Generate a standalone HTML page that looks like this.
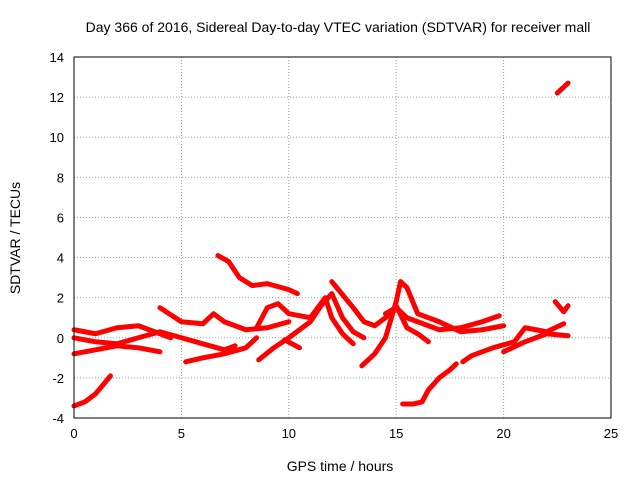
<!DOCTYPE html>
<html><head><meta charset="utf-8"><style>body{margin:0;background:#fff}svg{display:block;font-family:"Liberation Sans",sans-serif}</style></head>
<body>
<svg id="c" width="640" height="480"></svg>
<script>
const xTicks=[0,5,10,15,20,25];
const yTicks=[-4,-2,0,2,4,6,8,10,12,14];
const tr1=[[0,-3.4],[0.5,-3.2],[1,-2.8],[1.7,-1.9]];
const tr2=[[0,0.4],[1,0.2],[2,0.5],[3,0.6],[3.5,0.4],[4.5,0.0]];
const tr3=[[0,-0.8],[1,-0.6],[2,-0.4],[3,-0.5],[4,-0.7]];
const tr4=[[0,0.0],[1,-0.2],[2,-0.3],[3,0.0],[4,0.3],[5,0.0],[6,-0.3],[7,-0.6],[7.5,-0.4]];
const tr5=[[4,1.5],[5,0.8],[6,0.7],[6.5,1.2],[7,0.8],[8,0.4],[9,0.5],[10,0.8]];
const tr6=[[5.2,-1.2],[6,-1.0],[7,-0.8],[8,-0.5],[8.5,0]];
const tr7=[[6.7,4.1],[7.2,3.8],[7.7,3.0],[8.3,2.6],[9,2.7],[10,2.4],[10.4,2.2]];
const tr8=[[8.6,-1.1],[9.3,-0.5],[10,0],[11,0.8],[11.5,1.6],[12,2.2],[12.5,1.0],[13,0.3],[13.5,0]];
const tr9=[[8.5,0.5],[9,1.5],[9.5,1.7],[10,1.2],[11,1.0],[11.7,2.0],[12,1.0],[12.5,0.2],[13,-0.3]];
const tr10=[[9.8,-0.1],[10.5,-0.5]];
const tr11=[[12,2.8],[13,1.5],[13.5,0.8],[14,0.6],[14.5,1.0],[15,1.6],[15.5,0.5],[16,0.2],[16.5,-0.2]];
const tr12=[[13.4,-1.4],[14,-0.8],[14.5,0],[15,1.8],[15.2,2.8],[15.5,2.5],[16,1.2],[17,0.8],[18,0.3],[19,0.4],[20,0.6]];
const tr13=[[14.5,1.2],[15,1.5],[15.5,1.0],[16,0.8],[17,0.4],[18,0.5],[19,0.8],[19.8,1.1]];
const tr14=[[15.3,-3.3],[15.8,-3.3],[16.2,-3.2],[16.5,-2.6],[17,-2.0],[17.5,-1.6],[17.8,-1.3]];
const tr15=[[18.1,-1.2],[18.5,-0.9],[19.5,-0.5],[20.5,-0.2],[21,0.5],[22,0.3],[22.8,0.7]];
const tr16=[[20,-0.7],[21,-0.2],[22,0.2],[23,0.1]];
const tr17=[[22.4,1.8],[22.8,1.3],[23,1.6]];
const tr18=[[22.5,12.2],[23,12.7]];
const tracks=[tr1,tr2,tr3,tr4,tr5,tr6,tr7,tr8,tr9,tr10,tr11,tr12,tr13,tr14,tr15,tr16,tr17,tr18];
const L=74,R=611,T=57,B=418;
const sx=v=>L+(v-0)/(25-0)*(R-L);
const sy=v=>B-(v+4)/(14+4)*(B-T);
const svg=document.getElementById('c');
const NS='http://www.w3.org/2000/svg';
function mk(tag,attrs,txt){const e=document.createElementNS(NS,tag);for(const k in attrs)e.setAttribute(k,attrs[k]);if(txt!==undefined)e.textContent=txt;svg.appendChild(e);return e;}
xTicks.forEach(v=>{
 if(v>0&&v<25){const g=mk('line',{x1:sx(v),x2:sx(v),y1:T,y2:B,stroke:'#a0a0a0','stroke-dasharray':'1,2'});
 
 }
 const t=mk('text',{x:sx(v),y:B+20,'text-anchor':'middle','font-size':13},String(v));
 
 
});
yTicks.forEach(v=>{
 if(v>-4&&v<14){const g=mk('line',{x1:L,x2:R,y1:sy(v),y2:sy(v),stroke:'#a0a0a0','stroke-dasharray':'1,2'});
 
 }
 const t=mk('text',{x:L-10,y:sy(v)+5,'text-anchor':'end','font-size':13},String(v));
 
 
});
tracks.forEach(tr=>{
 const p=mk('polyline',{points:tr.map(d=>sx(d[0])+','+sy(d[1])).join(' '),fill:'none',stroke:'#ff0000','stroke-width':5,'stroke-linejoin':'round','stroke-linecap':'round'});
 
 
});
const f=mk('rect',{x:L,y:T,width:R-L,height:B-T,fill:'none',stroke:'#000'});


const ti=mk('text',{x:338,y:32,'text-anchor':'middle','font-size':14},'Day 366 of 2016, Sidereal Day-to-day VTEC variation (SDTVAR) for receiver mall');


const xt=mk('text',{x:340,y:471,'text-anchor':'middle','font-size':14},'GPS time / hours');


const yt=mk('text',{x:20,y:238,'text-anchor':'middle','font-size':14,transform:'rotate(-90 20 238)'},'SDTVAR / TECUs');


</script>
</body></html>
